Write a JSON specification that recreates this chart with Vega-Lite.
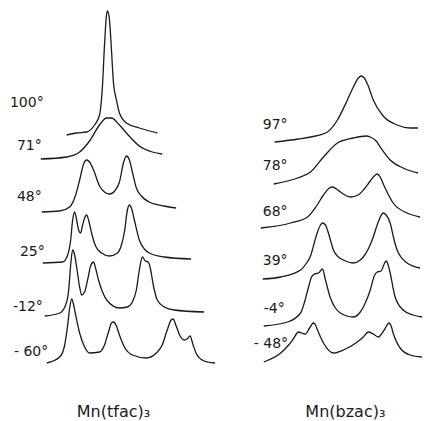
{
  "$schema": "https://vega.github.io/schema/vega-lite/v6.json",
  "width": 425,
  "height": 421,
  "padding": 0,
  "autosize": {"type": "fit", "contains": "padding"},
  "background": "white",
  "config": {"view": {"stroke": null}},
  "datasets": {
    "curves": [
      {"s":"L100","x":67,"y":135},{"s":"L100","x":77,"y":133},{"s":"L100","x":87,"y":132},{"s":"L100","x":95,"y":125},{"s":"L100","x":100,"y":115},{"s":"L100","x":103,"y":85},{"s":"L100","x":105,"y":45},{"s":"L100","x":107,"y":15},{"s":"L100","x":108,"y":11},{"s":"L100","x":110,"y":20},{"s":"L100","x":112,"y":50},{"s":"L100","x":114,"y":83},{"s":"L100","x":117,"y":100},{"s":"L100","x":120,"y":113},{"s":"L100","x":127,"y":123},{"s":"L100","x":140,"y":128},{"s":"L100","x":158,"y":133},
      {"s":"L71","x":41,"y":159},{"s":"L71","x":67,"y":157},{"s":"L71","x":80,"y":152},{"s":"L71","x":90,"y":141},{"s":"L71","x":100,"y":125},{"s":"L71","x":107,"y":118},{"s":"L71","x":112,"y":118},{"s":"L71","x":120,"y":125},{"s":"L71","x":127,"y":133},{"s":"L71","x":140,"y":146},{"s":"L71","x":153,"y":152},{"s":"L71","x":163,"y":154},
      {"s":"L48","x":42,"y":212},{"s":"L48","x":60,"y":211},{"s":"L48","x":70,"y":207},{"s":"L48","x":76,"y":195},{"s":"L48","x":80,"y":180},{"s":"L48","x":84,"y":164},{"s":"L48","x":87,"y":160},{"s":"L48","x":90,"y":162},{"s":"L48","x":94,"y":170},{"s":"L48","x":100,"y":186},{"s":"L48","x":105,"y":192},{"s":"L48","x":110,"y":194},{"s":"L48","x":116,"y":190},{"s":"L48","x":120,"y":182},{"s":"L48","x":124,"y":163},{"s":"L48","x":127,"y":156},{"s":"L48","x":130,"y":160},{"s":"L48","x":133,"y":172},{"s":"L48","x":137,"y":188},{"s":"L48","x":142,"y":196},{"s":"L48","x":150,"y":202},{"s":"L48","x":165,"y":206},{"s":"L48","x":177,"y":208},
      {"s":"L25","x":43,"y":263},{"s":"L25","x":63,"y":262},{"s":"L25","x":68,"y":255},{"s":"L25","x":71,"y":240},{"s":"L25","x":73,"y":220},{"s":"L25","x":75,"y":212},{"s":"L25","x":77,"y":220},{"s":"L25","x":79,"y":230},{"s":"L25","x":81,"y":233},{"s":"L25","x":83,"y":225},{"s":"L25","x":85,"y":218},{"s":"L25","x":87,"y":215},{"s":"L25","x":89,"y":220},{"s":"L25","x":92,"y":233},{"s":"L25","x":96,"y":246},{"s":"L25","x":102,"y":253},{"s":"L25","x":110,"y":256},{"s":"L25","x":118,"y":253},{"s":"L25","x":122,"y":245},{"s":"L25","x":125,"y":232},{"s":"L25","x":128,"y":210},{"s":"L25","x":130,"y":205},{"s":"L25","x":132,"y":208},{"s":"L25","x":135,"y":220},{"s":"L25","x":140,"y":240},{"s":"L25","x":145,"y":249},{"s":"L25","x":150,"y":253},{"s":"L25","x":165,"y":257},{"s":"L25","x":192,"y":259},
      {"s":"L-12","x":45,"y":316},{"s":"L-12","x":60,"y":313},{"s":"L-12","x":66,"y":305},{"s":"L-12","x":69,"y":290},{"s":"L-12","x":71,"y":265},{"s":"L-12","x":73,"y":250},{"s":"L-12","x":75,"y":255},{"s":"L-12","x":77,"y":267},{"s":"L-12","x":80,"y":287},{"s":"L-12","x":82,"y":295},{"s":"L-12","x":85,"y":292},{"s":"L-12","x":88,"y":280},{"s":"L-12","x":91,"y":266},{"s":"L-12","x":94,"y":262},{"s":"L-12","x":96,"y":268},{"s":"L-12","x":99,"y":280},{"s":"L-12","x":103,"y":292},{"s":"L-12","x":108,"y":301},{"s":"L-12","x":120,"y":308},{"s":"L-12","x":128,"y":307},{"s":"L-12","x":133,"y":302},{"s":"L-12","x":137,"y":290},{"s":"L-12","x":140,"y":270},{"s":"L-12","x":143,"y":257},{"s":"L-12","x":146,"y":261},{"s":"L-12","x":149,"y":262},{"s":"L-12","x":151,"y":268},{"s":"L-12","x":154,"y":285},{"s":"L-12","x":158,"y":300},{"s":"L-12","x":165,"y":307},{"s":"L-12","x":175,"y":310},{"s":"L-12","x":205,"y":312},
      {"s":"L-60","x":47,"y":363},{"s":"L-60","x":60,"y":357},{"s":"L-60","x":65,"y":345},{"s":"L-60","x":68,"y":325},{"s":"L-60","x":70,"y":308},{"s":"L-60","x":72,"y":299},{"s":"L-60","x":74,"y":305},{"s":"L-60","x":76,"y":315},{"s":"L-60","x":80,"y":333},{"s":"L-60","x":85,"y":347},{"s":"L-60","x":90,"y":353},{"s":"L-60","x":100,"y":352},{"s":"L-60","x":105,"y":345},{"s":"L-60","x":109,"y":332},{"s":"L-60","x":112,"y":323},{"s":"L-60","x":114,"y":322},{"s":"L-60","x":117,"y":326},{"s":"L-60","x":120,"y":335},{"s":"L-60","x":125,"y":347},{"s":"L-60","x":133,"y":355},{"s":"L-60","x":147,"y":358},{"s":"L-60","x":157,"y":353},{"s":"L-60","x":163,"y":345},{"s":"L-60","x":168,"y":330},{"s":"L-60","x":172,"y":320},{"s":"L-60","x":174,"y":319},{"s":"L-60","x":177,"y":326},{"s":"L-60","x":181,"y":336},{"s":"L-60","x":185,"y":340},{"s":"L-60","x":188,"y":339},{"s":"L-60","x":191,"y":336},{"s":"L-60","x":194,"y":345},{"s":"L-60","x":198,"y":355},{"s":"L-60","x":205,"y":361},{"s":"L-60","x":216,"y":363},
      {"s":"R97","x":276,"y":142},{"s":"R97","x":300,"y":139},{"s":"R97","x":312,"y":137},{"s":"R97","x":329,"y":132},{"s":"R97","x":339,"y":120},{"s":"R97","x":349,"y":100},{"s":"R97","x":355,"y":87},{"s":"R97","x":360,"y":78},{"s":"R97","x":363,"y":76},{"s":"R97","x":366,"y":78},{"s":"R97","x":370,"y":86},{"s":"R97","x":375,"y":100},{"s":"R97","x":385,"y":116},{"s":"R97","x":399,"y":125},{"s":"R97","x":412,"y":128},{"s":"R97","x":420,"y":128},
      {"s":"R78","x":275,"y":184},{"s":"R78","x":299,"y":178},{"s":"R78","x":312,"y":172},{"s":"R78","x":325,"y":157},{"s":"R78","x":339,"y":143},{"s":"R78","x":355,"y":138},{"s":"R78","x":368,"y":136},{"s":"R78","x":372,"y":137},{"s":"R78","x":378,"y":141},{"s":"R78","x":382,"y":147},{"s":"R78","x":392,"y":160},{"s":"R78","x":405,"y":168},{"s":"R78","x":420,"y":173},
      {"s":"R68","x":262,"y":228},{"s":"R68","x":292,"y":223},{"s":"R68","x":309,"y":217},{"s":"R68","x":318,"y":206},{"s":"R68","x":325,"y":195},{"s":"R68","x":331,"y":188},{"s":"R68","x":334,"y":187},{"s":"R68","x":338,"y":189},{"s":"R68","x":342,"y":192},{"s":"R68","x":352,"y":197},{"s":"R68","x":360,"y":195},{"s":"R68","x":366,"y":189},{"s":"R68","x":372,"y":181},{"s":"R68","x":376,"y":176},{"s":"R68","x":379,"y":174},{"s":"R68","x":382,"y":177},{"s":"R68","x":386,"y":186},{"s":"R68","x":395,"y":203},{"s":"R68","x":409,"y":213},{"s":"R68","x":422,"y":217},
      {"s":"R39","x":264,"y":279},{"s":"R39","x":282,"y":277},{"s":"R39","x":302,"y":270},{"s":"R39","x":308,"y":263},{"s":"R39","x":312,"y":256},{"s":"R39","x":316,"y":242},{"s":"R39","x":319,"y":232},{"s":"R39","x":322,"y":225},{"s":"R39","x":324,"y":223},{"s":"R39","x":327,"y":225},{"s":"R39","x":329,"y":230},{"s":"R39","x":332,"y":240},{"s":"R39","x":335,"y":250},{"s":"R39","x":340,"y":257},{"s":"R39","x":345,"y":260},{"s":"R39","x":355,"y":263},{"s":"R39","x":362,"y":260},{"s":"R39","x":365,"y":257},{"s":"R39","x":370,"y":249},{"s":"R39","x":375,"y":237},{"s":"R39","x":380,"y":222},{"s":"R39","x":385,"y":213},{"s":"R39","x":388,"y":215},{"s":"R39","x":392,"y":223},{"s":"R39","x":396,"y":240},{"s":"R39","x":399,"y":250},{"s":"R39","x":409,"y":263},{"s":"R39","x":422,"y":268},
      {"s":"R-4","x":265,"y":326},{"s":"R-4","x":289,"y":322},{"s":"R-4","x":302,"y":313},{"s":"R-4","x":306,"y":302},{"s":"R-4","x":310,"y":287},{"s":"R-4","x":313,"y":277},{"s":"R-4","x":316,"y":274},{"s":"R-4","x":320,"y":273},{"s":"R-4","x":324,"y":269},{"s":"R-4","x":327,"y":280},{"s":"R-4","x":332,"y":298},{"s":"R-4","x":337,"y":308},{"s":"R-4","x":342,"y":313},{"s":"R-4","x":355,"y":317},{"s":"R-4","x":362,"y":312},{"s":"R-4","x":367,"y":303},{"s":"R-4","x":372,"y":290},{"s":"R-4","x":376,"y":276},{"s":"R-4","x":379,"y":272},{"s":"R-4","x":383,"y":271},{"s":"R-4","x":386,"y":264},{"s":"R-4","x":388,"y":261},{"s":"R-4","x":390,"y":265},{"s":"R-4","x":392,"y":273},{"s":"R-4","x":397,"y":297},{"s":"R-4","x":405,"y":310},{"s":"R-4","x":415,"y":315},{"s":"R-4","x":424,"y":317},
      {"s":"R-48","x":265,"y":362},{"s":"R-48","x":282,"y":353},{"s":"R-48","x":290,"y":345},{"s":"R-48","x":294,"y":340},{"s":"R-48","x":300,"y":332},{"s":"R-48","x":303,"y":333},{"s":"R-48","x":307,"y":334},{"s":"R-48","x":311,"y":328},{"s":"R-48","x":315,"y":323},{"s":"R-48","x":317,"y":325},{"s":"R-48","x":319,"y":330},{"s":"R-48","x":325,"y":343},{"s":"R-48","x":335,"y":353},{"s":"R-48","x":345,"y":350},{"s":"R-48","x":359,"y":342},{"s":"R-48","x":365,"y":337},{"s":"R-48","x":370,"y":332},{"s":"R-48","x":375,"y":334},{"s":"R-48","x":380,"y":337},{"s":"R-48","x":386,"y":330},{"s":"R-48","x":391,"y":323},{"s":"R-48","x":393,"y":326},{"s":"R-48","x":395,"y":333},{"s":"R-48","x":402,"y":348},{"s":"R-48","x":412,"y":355},{"s":"R-48","x":424,"y":357}
    ],
    "labels": [
      {"t":"100°","x":10,"y":103},{"t":"71°","x":17,"y":146},{"t":"48°","x":17,"y":197},{"t":"25°","x":20,"y":252},{"t":"-12°","x":13,"y":307},{"t":"- 60°","x":14,"y":352},
      {"t":"97°","x":264,"y":125},{"t":"78°","x":264,"y":166},{"t":"68°","x":264,"y":212},{"t":"39°","x":264,"y":261},{"t":"-4°","x":265,"y":309},{"t":"- 48°","x":255,"y":344}
    ],
    "titles": [
      {"t":"Mn(tfac)₃","x":114,"y":412},{"t":"Mn(bzac)₃","x":347,"y":412}
    ]
  },
  "layer": [
    {
      "data": {"name": "curves"},
      "mark": {"type": "line", "interpolate": "monotone", "color": "#1a1a1a", "strokeWidth": 1.3},
      "encoding": {
        "x": {"field": "x", "type": "quantitative", "scale": {"domain": [0, 425], "nice": false, "zero": false}, "axis": null},
        "y": {"field": "y", "type": "quantitative", "scale": {"domain": [0, 421], "nice": false, "zero": false, "reverse": true}, "axis": null},
        "detail": {"field": "s", "type": "nominal"}
      }
    },
    {
      "data": {"name": "labels"},
      "mark": {"type": "text", "align": "left", "baseline": "middle", "font": "DejaVu Sans", "fontSize": 14, "color": "#1a1a1a"},
      "encoding": {
        "x": {"field": "x", "type": "quantitative"},
        "y": {"field": "y", "type": "quantitative"},
        "text": {"field": "t", "type": "nominal"}
      }
    },
    {
      "data": {"name": "titles"},
      "mark": {"type": "text", "align": "center", "baseline": "middle", "font": "DejaVu Sans", "fontSize": 16, "color": "#1a1a1a"},
      "encoding": {
        "x": {"field": "x", "type": "quantitative"},
        "y": {"field": "y", "type": "quantitative"},
        "text": {"field": "t", "type": "nominal"}
      }
    }
  ]
}
